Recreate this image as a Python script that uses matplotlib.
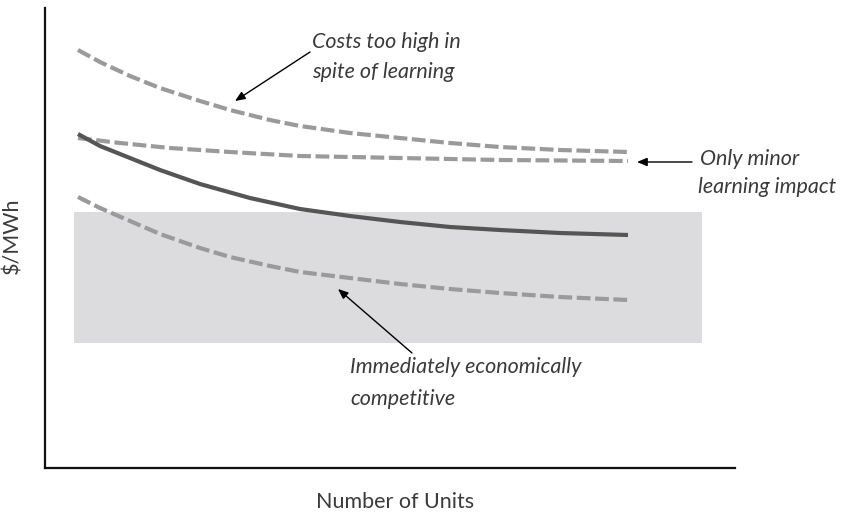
"""Learning-curve sketch: cost per MWh against number of units built."""

import matplotlib.pyplot as plt
from matplotlib.patches import Rectangle

# values (x: units, y: $/MWh, arbitrary scale)
top_x = [33, 55, 85, 115, 155, 185, 225, 255, 305, 355, 405, 455, 515, 583]
top_y = [418, 406, 392, 380, 367, 358, 348, 342, 335, 330, 325, 321, 318, 316]

flat_x = [33, 75, 125, 185, 255, 355, 455, 583]
flat_y = [330, 325, 320, 316, 312, 310, 308, 307]

base_x = [33, 55, 85, 115, 155, 205, 255, 305, 355, 405, 455, 515, 583]
base_y = [334, 322, 310, 298, 284, 270, 259, 252, 246, 241, 238, 235, 233]

low_x = [33, 55, 85, 115, 155, 185, 225, 255, 305, 355, 405, 455, 515, 583]
low_y = [271, 260, 247, 234, 220, 211, 202, 196, 190, 184, 179, 175, 171, 168]

# competitive band
band_x0, band_x1 = 29, 657
band_y0, band_y1 = 125, 256

plt.rcParams["font.family"] = ["Lato", "DejaVu Sans"]
TXT = "#3a3a3a"
DASH = "#9a9a9a"
FS = 15.5

fig = plt.figure(figsize=(8.46, 5.13), dpi=100)
ax = fig.add_axes([45 / 846, 45 / 513, 690 / 846, 460 / 513])
ax.set_xlim(0, 690)
ax.set_ylim(0, 460)

ax.add_patch(Rectangle((band_x0, band_y0), band_x1 - band_x0, band_y1 - band_y0,
                       facecolor="#dcdcde", edgecolor="none", zorder=1))

dash_kw = dict(color=DASH, linewidth=3, dashes=(3.3, 1.1), zorder=2)
ax.plot(top_x, top_y, **dash_kw)
ax.plot(flat_x, flat_y, **dash_kw)
ax.plot(low_x, low_y, **dash_kw)
ax.plot(base_x, base_y, color="#555555", linewidth=3, zorder=3,
        solid_capstyle="butt")

arrow = dict(arrowstyle="-|>,head_length=0.6,head_width=0.25", color="black",
             linewidth=1, shrinkA=0, shrinkB=0)
ax.annotate("", xy=(190, 367), xytext=(265, 416), arrowprops=arrow)
ax.annotate("", xy=(592, 306), xytext=(647, 306), arrowprops=arrow,
            annotation_clip=False)
ax.annotate("", xy=(293, 179), xytext=(367, 115), arrowprops=arrow)

txt_kw = dict(fontsize=FS, style="italic", color=TXT, va="baseline", ha="left")
ax.text(267, 420, "Costs too high in", **txt_kw)
ax.text(267, 390, "spite of learning", **txt_kw)
ax.text(655, 303, "Only minor", clip_on=False, **txt_kw)
ax.text(653, 275, "learning impact", clip_on=False, **txt_kw)
ax.text(305, 95, "Immediately economically", **txt_kw)
ax.text(305, 63, "competitive", **txt_kw)

fig.text(395 / 846, 1 - 508 / 513, "Number of Units", fontsize=FS, color=TXT,
         ha="center", va="baseline")
fig.text(12 / 846, 1 - 236 / 513, "$/MWh", fontsize=FS, color=TXT,
         ha="center", va="center", rotation=90)

for side in ("top", "right"):
    ax.spines[side].set_visible(False)
for side in ("left", "bottom"):
    ax.spines[side].set_linewidth(1.6)
    ax.spines[side].set_color("#111111")
ax.set_xticks([])
ax.set_yticks([])

fig.savefig("out.png", dpi=100)
